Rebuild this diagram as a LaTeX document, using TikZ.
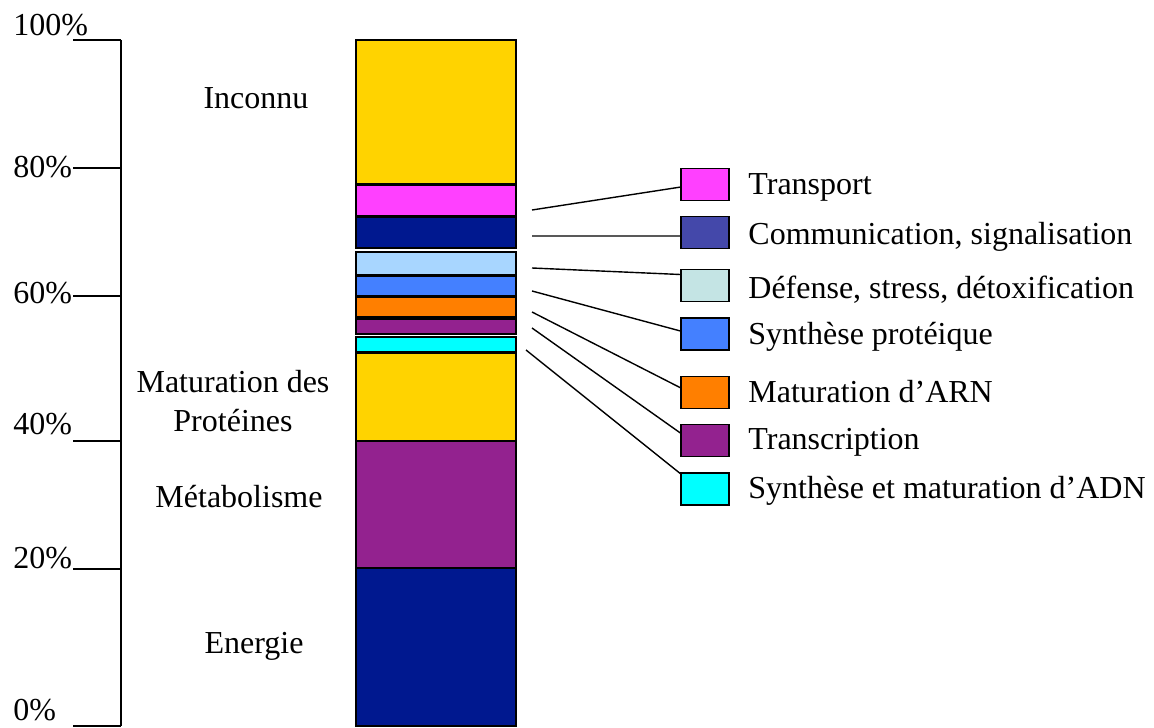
\documentclass[tikz,border=0pt]{standalone}
\usepackage{fontspec}
\setmainfont{Liberation Serif}
\usepackage{tikz}

\definecolor{jaune}{HTML}{FFD300}
\definecolor{rose}{HTML}{FF40FF}
\definecolor{marine}{HTML}{00188F}
\definecolor{ciel}{HTML}{A8D6FF}
\definecolor{bleu}{HTML}{4480FF}
\definecolor{orange}{HTML}{FF7F00}
\definecolor{violet}{HTML}{93228F}
\definecolor{cyan}{HTML}{00FFFF}
\definecolor{indigo}{HTML}{4448AA}
\definecolor{glace}{HTML}{C4E4E4}

\begin{document}
\begin{tikzpicture}[x=0.5pt,y=-0.5pt]
    \tikzstyle{every node}=[inner sep=0pt,font=\fontsize{16}{19.5}\selectfont]
    \tikzstyle{seg}=[draw,line width=0.8pt,minimum width=80pt]
    \tikzstyle{legbox}=[draw,line width=0.7pt,minimum width=24pt,
                        minimum height=16pt]
    \useasboundingbox (0,0) rectangle (1154,727);

      % axe des pourcentages
      \draw[line width=0.8pt] (121,40) -- (121,726);
      \foreach \y in {40,168,296,441,569,726}
        \draw[line width=0.8pt] (73,\y) -- (121,\y);
      \node (p100) [anchor=base west] at (13,36) {100\%};
      \node (p80) [anchor=base west] at (13,177) {80\%};
      \node (p60) [anchor=base west] at (13,303) {60\%};
      \node (p40) [anchor=base west] at (13,434) {40\%};
      \node (p20) [anchor=base west] at (13,568) {20\%};
      \node (p0) [anchor=base west] at (13,720) {0\%};

      % la barre
      \node (inc) [seg,fill=jaune,minimum height=72pt] at (436,112) {};
      \node (tra) [seg,fill=rose,minimum height=15.5pt] at (436,200.5) {};
      \node (com) [seg,fill=marine,minimum height=15.5pt] at (436,232.5) {};
      \node (def) [seg,fill=ciel,minimum height=11.5pt] at (436,263.5) {};
      \node (syp) [seg,fill=bleu,minimum height=10pt] at (436,286) {};
      \node (arn) [seg,fill=orange,minimum height=10pt] at (436,307) {};
      \node (trc) [seg,fill=violet,minimum height=7.5pt] at (436,326.5) {};
      \node (adn) [seg,fill=cyan,minimum height=7.5pt] at (436,344.5) {};
      \node (mat) [seg,fill=jaune,minimum height=44pt] at (436,397) {};
      \node (met) [seg,fill=violet,minimum height=63.5pt] at (436,504.5) {};
      \node (ene) [seg,fill=marine,minimum height=79pt] at (436,647) {};

      \node (linc) [anchor=base] at (256,109) {Inconnu};
      \node (lmat) [anchor=base,align=center] at (233,431)
        {Maturation des\\Prot\'eines};
      \node (lmet) [anchor=base] at (239,507) {M\'etabolisme};
      \node (lene) [anchor=base] at (254,653) {Energie};

      % la legende
      \node (btra) [legbox,fill=rose] at (705,184.5) {};
      \node (bcom) [legbox,fill=indigo] at (705,232.5) {};
      \node (bdef) [legbox,fill=glace] at (705,285.5) {};
      \node (bsyp) [legbox,fill=bleu] at (705,334) {};
      \node (barn) [legbox,fill=orange] at (705,392.5) {};
      \node (btrc) [legbox,fill=violet] at (705,440.5) {};
      \node (badn) [legbox,fill=cyan] at (705,489) {};

      \node (ltra) [anchor=base west] at (748,194) {Transport};
      \node (lcom) [anchor=base west] at (748,244) {Communication, signalisation};
      \node (ldef) [anchor=base west] at (748,298) {D\'efense, stress, d\'etoxification};
      \node (lsyp) [anchor=base west] at (748,344) {Synth\`ese prot\'eique};
      \node (larn) [anchor=base west] at (748,402) {Maturation d’ARN};
      \node (ltrc) [anchor=base west] at (748,449) {Transcription};
      \node (ladn) [anchor=base west] at (748,498) {Synth\`ese et maturation d’ADN};

      \coordinate (ctra) at (532,210);
      \coordinate (ccom) at (532,236);
      \coordinate (cdef) at (532,268);
      \coordinate (csyp) at (532,291);
      \coordinate (carn) at (532,312);
      \coordinate (ctrc) at (532,328);
      \coordinate (cadn) at (526,350);

      \draw[line width=0.7pt] (ctra) -- (btra.186);
      \draw[line width=0.7pt] (ccom) -- (bcom.188);
      \draw[line width=0.7pt] (cdef) -- (bdef.156);
      \draw[line width=0.7pt] (csyp) -- (bsyp.173);
      \draw[line width=0.7pt] (carn) -- (barn.169);
      \draw[line width=0.7pt] (ctrc) -- (btrc.163);
      \draw[line width=0.7pt] (cadn) -- (badn.148);
    \end{tikzpicture}
\end{document}
